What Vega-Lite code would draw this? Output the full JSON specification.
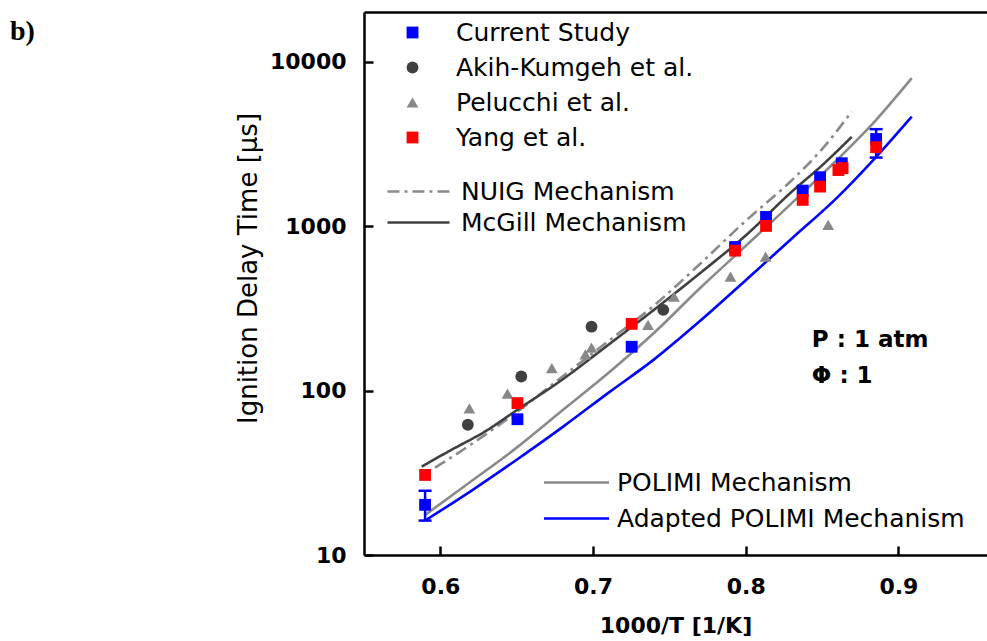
{
  "$schema": "https://vega.github.io/schema/vega-lite/v6.json",
  "width": 623,
  "height": 543,
  "autosize": {"type": "none"},
  "padding": {"left": 364, "top": 12, "right": 0, "bottom": 86},
  "background": "white",
  "title": {"text": "b)", "font": "Liberation Serif", "fontSize": 28, "fontWeight": "bold", "color": "black", "anchor": "start", "frame": "group", "orient": "none", "align": "left", "baseline": "alphabetic", "dx": -354, "dy": 28},
  "config": {
    "font": "DejaVu Sans",
    "view": {"stroke": null},
    "axis": {"grid": false, "domainColor": "black", "domainWidth": 2.5, "tickColor": "black", "tickWidth": 2.5, "tickSize": -9, "labelFont": "DejaVu Sans", "labelFontWeight": "bold", "labelFontSize": 22, "labelColor": "black", "titleColor": "black", "titleFont": "DejaVu Sans"},
    "legend": {"labelFont": "DejaVu Sans", "labelFontSize": 25, "labelColor": "black", "labelLimit": 0, "padding": 0, "offset": 0, "orient": "none", "title": null}
  },
  "datasets": {
    "lines": [
      {"mech": "NUIG Mechanism", "x": 0.5965, "y": 34},
      {"mech": "NUIG Mechanism", "x": 0.62, "y": 47},
      {"mech": "NUIG Mechanism", "x": 0.65, "y": 74},
      {"mech": "NUIG Mechanism", "x": 0.68, "y": 122},
      {"mech": "NUIG Mechanism", "x": 0.71, "y": 200},
      {"mech": "NUIG Mechanism", "x": 0.74, "y": 330},
      {"mech": "NUIG Mechanism", "x": 0.77, "y": 590},
      {"mech": "NUIG Mechanism", "x": 0.80, "y": 1080},
      {"mech": "NUIG Mechanism", "x": 0.83, "y": 1900},
      {"mech": "NUIG Mechanism", "x": 0.85, "y": 2950},
      {"mech": "NUIG Mechanism", "x": 0.8694, "y": 4990},
      {"mech": "McGill Mechanism", "x": 0.5878, "y": 34.5},
      {"mech": "McGill Mechanism", "x": 0.605, "y": 42.5},
      {"mech": "McGill Mechanism", "x": 0.63, "y": 57},
      {"mech": "McGill Mechanism", "x": 0.65, "y": 76},
      {"mech": "McGill Mechanism", "x": 0.68, "y": 117},
      {"mech": "McGill Mechanism", "x": 0.71, "y": 190},
      {"mech": "McGill Mechanism", "x": 0.74, "y": 311},
      {"mech": "McGill Mechanism", "x": 0.77, "y": 518},
      {"mech": "McGill Mechanism", "x": 0.80, "y": 880},
      {"mech": "McGill Mechanism", "x": 0.83, "y": 1620},
      {"mech": "McGill Mechanism", "x": 0.85, "y": 2350},
      {"mech": "McGill Mechanism", "x": 0.8694, "y": 3500},
      {"mech": "POLIMI Mechanism", "x": 0.59, "y": 17.5},
      {"mech": "POLIMI Mechanism", "x": 0.62, "y": 28},
      {"mech": "POLIMI Mechanism", "x": 0.65, "y": 45},
      {"mech": "POLIMI Mechanism", "x": 0.68, "y": 76},
      {"mech": "POLIMI Mechanism", "x": 0.71, "y": 128},
      {"mech": "POLIMI Mechanism", "x": 0.74, "y": 225},
      {"mech": "POLIMI Mechanism", "x": 0.77, "y": 420},
      {"mech": "POLIMI Mechanism", "x": 0.80, "y": 760},
      {"mech": "POLIMI Mechanism", "x": 0.83, "y": 1380},
      {"mech": "POLIMI Mechanism", "x": 0.86, "y": 2550},
      {"mech": "POLIMI Mechanism", "x": 0.885, "y": 4400},
      {"mech": "POLIMI Mechanism", "x": 0.9087, "y": 7970},
      {"mech": "Adapted POLIMI Mechanism", "x": 0.59, "y": 16.2},
      {"mech": "Adapted POLIMI Mechanism", "x": 0.62, "y": 24.5},
      {"mech": "Adapted POLIMI Mechanism", "x": 0.65, "y": 38},
      {"mech": "Adapted POLIMI Mechanism", "x": 0.68, "y": 60},
      {"mech": "Adapted POLIMI Mechanism", "x": 0.71, "y": 97},
      {"mech": "Adapted POLIMI Mechanism", "x": 0.74, "y": 155},
      {"mech": "Adapted POLIMI Mechanism", "x": 0.77, "y": 265},
      {"mech": "Adapted POLIMI Mechanism", "x": 0.80, "y": 470},
      {"mech": "Adapted POLIMI Mechanism", "x": 0.83, "y": 840},
      {"mech": "Adapted POLIMI Mechanism", "x": 0.86, "y": 1500},
      {"mech": "Adapted POLIMI Mechanism", "x": 0.885, "y": 2620},
      {"mech": "Adapted POLIMI Mechanism", "x": 0.9087, "y": 4650}
    ],
    "points": [
      {"study": "Pelucchi et al.", "x": 0.619, "y": 78},
      {"study": "Pelucchi et al.", "x": 0.644, "y": 96},
      {"study": "Pelucchi et al.", "x": 0.673, "y": 137},
      {"study": "Pelucchi et al.", "x": 0.695, "y": 166},
      {"study": "Pelucchi et al.", "x": 0.699, "y": 183},
      {"study": "Pelucchi et al.", "x": 0.736, "y": 251},
      {"study": "Pelucchi et al.", "x": 0.753, "y": 373},
      {"study": "Pelucchi et al.", "x": 0.790, "y": 494},
      {"study": "Pelucchi et al.", "x": 0.813, "y": 654},
      {"study": "Pelucchi et al.", "x": 0.854, "y": 1020},
      {"study": "Akih-Kumgeh et al.", "x": 0.618, "y": 62},
      {"study": "Akih-Kumgeh et al.", "x": 0.653, "y": 122},
      {"study": "Akih-Kumgeh et al.", "x": 0.699, "y": 245},
      {"study": "Akih-Kumgeh et al.", "x": 0.746, "y": 310},
      {"study": "Current Study", "x": 0.590, "y": 20.2},
      {"study": "Current Study", "x": 0.6505, "y": 67},
      {"study": "Current Study", "x": 0.7253, "y": 185},
      {"study": "Current Study", "x": 0.793, "y": 748},
      {"study": "Current Study", "x": 0.8133, "y": 1140},
      {"study": "Current Study", "x": 0.8373, "y": 1650},
      {"study": "Current Study", "x": 0.8487, "y": 1990},
      {"study": "Current Study", "x": 0.8629, "y": 2420},
      {"study": "Current Study", "x": 0.8854, "y": 3400},
      {"study": "Yang et al.", "x": 0.590, "y": 30.7},
      {"study": "Yang et al.", "x": 0.6505, "y": 84},
      {"study": "Yang et al.", "x": 0.7253, "y": 255},
      {"study": "Yang et al.", "x": 0.793, "y": 711},
      {"study": "Yang et al.", "x": 0.8133, "y": 1006},
      {"study": "Yang et al.", "x": 0.8373, "y": 1448},
      {"study": "Yang et al.", "x": 0.8487, "y": 1745},
      {"study": "Yang et al.", "x": 0.8607, "y": 2200},
      {"study": "Yang et al.", "x": 0.8634, "y": 2260},
      {"study": "Yang et al.", "x": 0.8854, "y": 3030}
    ],
    "err": [
      {"x": 0.590, "lo": 16.2, "hi": 24.6},
      {"x": 0.8854, "lo": 2620, "hi": 3900}
    ],
    "notes": [
      {"label": "P : 1 atm", "x": 0.8433, "y": 203.5},
      {"label": "Φ : 1", "x": 0.8433, "y": 122.9}
    ]
  },
  "resolve": {"scale": {"color": "independent", "strokeDash": "independent", "shape": "independent", "size": "independent"}, "axis": {"x": "independent", "y": "independent"}},
  "layer": [
    {
      "data": {"name": "lines"},
      "transform": [{"filter": "datum.mech === 'NUIG Mechanism' || datum.mech === 'McGill Mechanism'"}],
      "mark": {"type": "line", "strokeWidth": 2.6, "interpolate": "monotone"},
      "encoding": {
        "x": {"field": "x", "type": "quantitative", "scale": {"domain": [0.55, 0.958], "nice": false, "zero": false}, "axis": null},
        "y": {"field": "y", "type": "quantitative", "scale": {"type": "log", "domain": [10, 20140], "nice": false}, "axis": null},
        "color": {"field": "mech", "type": "nominal", "scale": {"domain": ["NUIG Mechanism", "McGill Mechanism"], "range": ["#8a8a8a", "#404040"]},
          "legend": {"symbolType": "M-5,0H5", "symbolSize": 154, "symbolStrokeWidth": 2.6, "legendX": 42, "legendY": 167, "rowPadding": 5, "labelOffset": 30}},
        "strokeDash": {"field": "mech", "type": "nominal", "scale": {"domain": ["NUIG Mechanism", "McGill Mechanism"], "range": [[12, 5, 3, 5], [1, 0]]},
          "legend": {"symbolType": "M-5,0H5", "symbolSize": 154, "symbolStrokeWidth": 2.6, "legendX": 42, "legendY": 167, "rowPadding": 5, "labelOffset": 30}},
        "order": {"field": "x", "type": "quantitative"}
      }
    },
    {
      "data": {"name": "lines"},
      "transform": [{"filter": "datum.mech === 'POLIMI Mechanism' || datum.mech === 'Adapted POLIMI Mechanism'"}],
      "mark": {"type": "line", "strokeWidth": 2.6, "interpolate": "monotone"},
      "encoding": {
        "x": {"field": "x", "type": "quantitative", "axis": null},
        "y": {"field": "y", "type": "quantitative", "axis": null},
        "color": {"field": "mech", "type": "nominal", "scale": {"domain": ["POLIMI Mechanism", "Adapted POLIMI Mechanism"], "range": ["#8a8a8a", "#0000ff"]},
          "legend": {"symbolType": "M-5,0H5", "symbolSize": 169, "symbolStrokeWidth": 2.6, "legendX": 200, "legendY": 458, "rowPadding": 10, "labelOffset": 28}},
        "order": {"field": "x", "type": "quantitative"}
      }
    },
    {
      "data": {"name": "err"},
      "mark": {"type": "rule", "color": "#0000ff", "strokeWidth": 2.5},
      "encoding": {
        "x": {"field": "x", "type": "quantitative", "axis": {"orient": "top", "labels": false, "ticks": false, "title": null, "domain": true}},
        "y": {"field": "lo", "type": "quantitative", "axis": null},
        "y2": {"field": "hi"}
      }
    },
    {
      "data": {"name": "err"},
      "mark": {"type": "tick", "orient": "horizontal", "color": "#0000ff", "size": 13, "thickness": 2.5, "opacity": 1},
      "encoding": {
        "x": {"field": "x", "type": "quantitative", "axis": null},
        "y": {"field": "lo", "type": "quantitative", "axis": null}
      }
    },
    {
      "data": {"name": "err"},
      "mark": {"type": "tick", "orient": "horizontal", "color": "#0000ff", "size": 13, "thickness": 2.5, "opacity": 1},
      "encoding": {
        "x": {"field": "x", "type": "quantitative", "axis": null},
        "y": {"field": "hi", "type": "quantitative", "axis": null}
      }
    },
    {
      "data": {"name": "points"},
      "mark": {"type": "point", "filled": true, "opacity": 1, "strokeWidth": 0},
      "encoding": {
        "x": {"field": "x", "type": "quantitative",
          "axis": {"orient": "bottom", "values": [0.6, 0.7, 0.8, 0.9], "format": ".1f", "title": "1000/T [1/K]", "titleFontSize": 22, "titleFontWeight": "bold", "titlePadding": 18, "labelPadding": 30}},
        "y": {"field": "y", "type": "quantitative",
          "axis": {"orient": "left", "values": [10, 100, 1000, 10000], "format": "d", "title": "Ignition Delay Time [μs]", "titleFontSize": 26, "titleFontWeight": "normal", "titlePadding": 8, "labelPadding": 27, "titleY": 256}},
        "color": {"field": "study", "type": "nominal",
          "scale": {"domain": ["Current Study", "Akih-Kumgeh et al.", "Pelucchi et al.", "Yang et al."], "range": ["#0000ff", "#404040", "#888888", "#ff0000"]},
          "legend": {"symbolSize": 140, "symbolStrokeWidth": 0, "legendX": 36, "legendY": 8, "rowPadding": 9, "labelOffset": 31}},
        "shape": {"field": "study", "type": "nominal",
          "scale": {"domain": ["Current Study", "Akih-Kumgeh et al.", "Pelucchi et al.", "Yang et al."], "range": ["square", "circle", "triangle-up", "square"]},
          "legend": {"symbolSize": 140, "symbolStrokeWidth": 0, "legendX": 36, "legendY": 8, "rowPadding": 9, "labelOffset": 31}},
        "size": {"field": "study", "type": "nominal",
          "scale": {"domain": ["Current Study", "Akih-Kumgeh et al.", "Pelucchi et al.", "Yang et al."], "range": [140, 140, 220, 140]},
          "legend": null}
      }
    },
    {
      "data": {"name": "notes"},
      "mark": {"type": "text", "font": "DejaVu Sans", "fontWeight": "bold", "fontSize": 23, "align": "left", "baseline": "middle", "color": "black"},
      "encoding": {
        "x": {"field": "x", "type": "quantitative", "axis": null},
        "y": {"field": "y", "type": "quantitative", "axis": null},
        "text": {"field": "label"}
      }
    }
  ]
}
